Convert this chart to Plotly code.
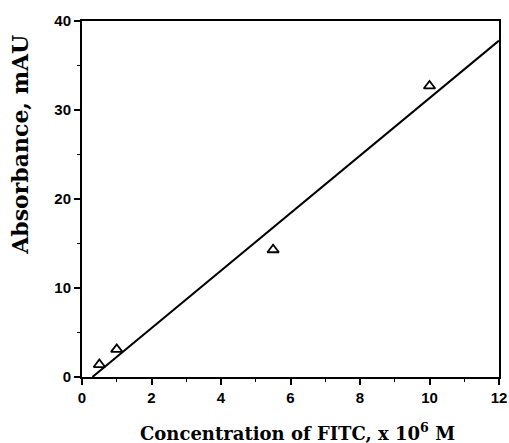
import plotly.graph_objects as go

# Data
conc_x = [0.5, 1.0, 5.5, 10.0]
absorb_y = [1.4, 3.1, 14.3, 32.7]
fit_x = [0.3, 12.0]
fit_y = [0.0, 37.8]
x_ticks = [0, 2, 4, 6, 8, 10, 12]
y_ticks = [0, 10, 20, 30, 40]

fig = go.Figure()
fig.add_trace(go.Scatter(x=fit_x, y=fit_y, mode="lines",
                         line=dict(color="black", width=2), showlegend=False))
fig.add_trace(go.Scatter(x=conc_x, y=absorb_y, mode="markers",
                         marker=dict(symbol="triangle-up-open", size=10, color="black",
                                     line=dict(width=1.8, color="black")),
                         showlegend=False))

axis_common = dict(showgrid=False, zeroline=False, showline=True, linecolor="black",
                   linewidth=2, mirror=True, ticks="outside", ticklen=6, tickwidth=1.5,
                   tickcolor="black", automargin=False,
                   tickfont=dict(family="Liberation Sans", size=15, color="black", weight="bold"))

fig.update_xaxes(range=[0, 12], tickvals=x_ticks, ticktext=[str(v) for v in x_ticks],
                 minor=dict(dtick=1, ticks="outside", ticklen=3, tickcolor="black", tickwidth=1),
                 **axis_common)
fig.update_yaxes(range=[0, 40], tickvals=y_ticks, ticktext=[str(v) for v in y_ticks],
                 minor=dict(dtick=5, ticks="outside", ticklen=3, tickcolor="black", tickwidth=1),
                 **axis_common)

fig.add_annotation(text="<b>Concentration of FITC, x 10<sup>6</sup> M</b>",
                   xref="paper", yref="paper",
                   x=0.517, y=-0.155, xanchor="center", yanchor="middle", showarrow=False,
                   font=dict(family="DejaVu Serif", size=18, color="black"))
fig.add_annotation(text="<b>Absorbance, mAU</b>", xref="paper", yref="paper",
                   x=-0.149, y=0.652, xanchor="center", yanchor="middle", showarrow=False,
                   textangle=-90,
                   font=dict(family="DejaVu Serif", size=22, color="black"))

fig.update_layout(width=509, height=443, plot_bgcolor="white", paper_bgcolor="white",
                  margin=dict(l=82, r=10, t=21, b=66, autoexpand=False))

fig.write_html("out.html", config={"displayModeBar": False},
               post_script="document.body.style.margin='0px';")
